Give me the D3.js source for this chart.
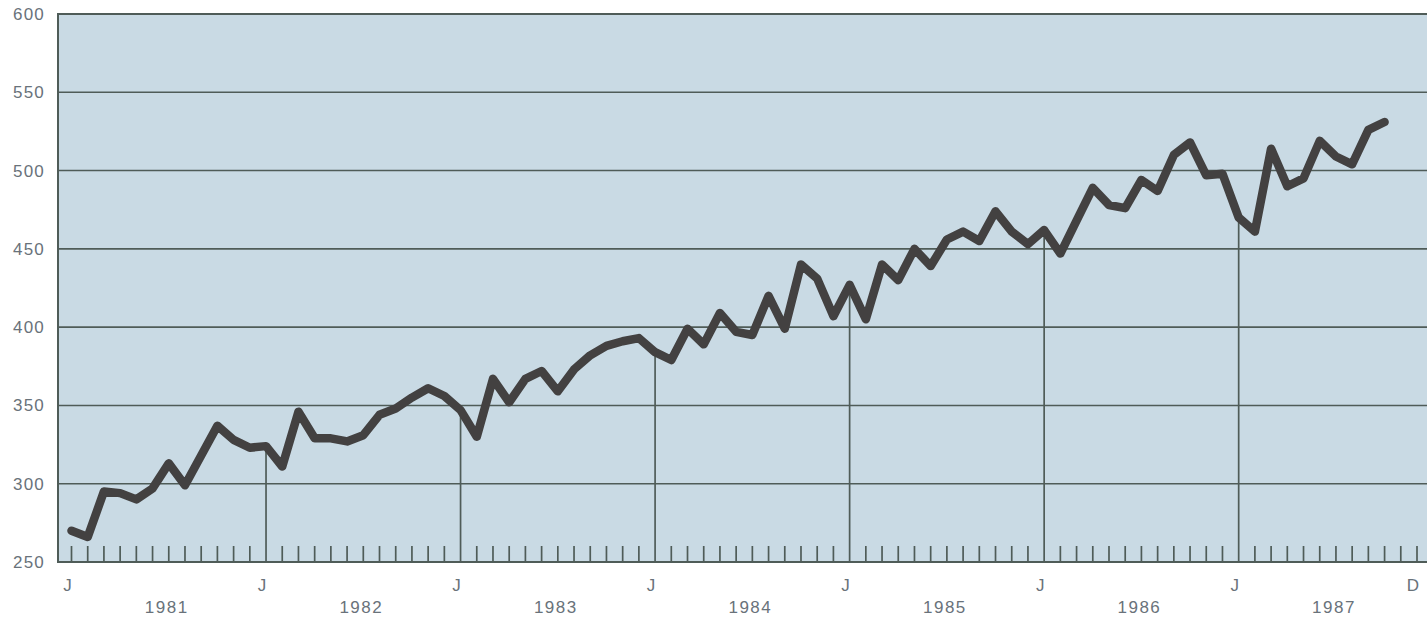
<!DOCTYPE html>
<html>
<head>
<meta charset="utf-8">
<script src="https://cdn.jsdelivr.net/npm/d3@7"></script>
<style>
  html, body { margin: 0; padding: 0; background: #ffffff; }
  svg { display: block; }
  text { font-family: "Liberation Sans", Arial, sans-serif; }
</style>
</head>
<body>
<svg id="chart" width="1427" height="618"></svg>
<script>
// ---- data (monthly, Jan 1981 .. Oct 1987) ----
const years = [1981, 1982, 1983, 1984, 1985, 1986, 1987];
const monthsPerYear = 12;
const values = [
  270, 266, 295, 294, 290, 297, 313, 299, 318, 337, 328, 323,   // 1981
  324, 311, 346, 329, 329, 327, 331, 344, 348, 355, 361, 356,   // 1982
  347, 330, 367, 352, 367, 372, 359, 373, 382, 388, 391, 393,   // 1983
  384, 379, 399, 389, 409, 397, 395, 420, 399, 440, 431, 407,   // 1984
  427, 405, 440, 430, 450, 439, 456, 461, 455, 474, 461, 453,   // 1985
  462, 447, 468, 489, 478, 476, 494, 487, 510, 518, 497, 498,   // 1986
  470, 461, 514, 490, 495, 519, 509, 504, 526, 531              // 1987
];
const yTicks = [250, 300, 350, 400, 450, 500, 550, 600];
const monthLabels = ["J", "J", "J", "J", "J", "J", "J", "D"];

// ---- layout ----
const svg = d3.select("#chart");
const frame = { left: 58, top: 14, right: 1432, bottom: 562 };
const totalMonths = years.length * monthsPerYear; // 84
const x = d3.scaleLinear().domain([0, totalMonths - 1]).range([71.5, 1417]);
const y = d3.scaleLinear().domain([250, 600]).range([562, 14]);

const gridColor = "#4f5c58";
const textColor = "#69727a";

// plot background
svg.append("rect")
  .attr("x", frame.left).attr("y", frame.top)
  .attr("width", frame.right - frame.left).attr("height", frame.bottom - frame.top)
  .attr("fill", "#c9dae4");

// horizontal grid lines
svg.append("g").selectAll("line").data(yTicks).join("line")
  .attr("x1", frame.left).attr("x2", frame.right)
  .attr("y1", d => y(d)).attr("y2", d => y(d))
  .attr("stroke", gridColor)
  .attr("stroke-width", d => (d === 600 || d === 250) ? 2 : 1.6);

// left frame
svg.append("line")
  .attr("x1", frame.left).attr("x2", frame.left)
  .attr("y1", frame.top - 1).attr("y2", frame.bottom + 1)
  .attr("stroke", gridColor).attr("stroke-width", 2);

// y axis labels
const yAxis = d3.axisLeft(y).tickValues(yTicks).tickSize(0).tickPadding(0);
const yg = svg.append("g").attr("transform", `translate(${frame.left - 13},0)`).call(yAxis);
yg.select(".domain").remove();
yg.selectAll("text")
  .attr("font-size", 17).attr("fill", textColor)
  .attr("letter-spacing", "1.2px")
  .attr("font-family", "'Liberation Sans', Arial, sans-serif");

// month ticks and January drop lines
const monthIdx = d3.range(totalMonths);
svg.append("g").selectAll("line").data(monthIdx).join("line")
  .attr("x1", d => x(d)).attr("x2", d => x(d))
  .attr("y1", y(250))
  .attr("y2", d => (d % 12 === 0 && d > 0 && d < values.length) ? y(values[d]) : y(250) - 16)
  .attr("stroke", gridColor)
  .attr("stroke-width", 1.7);

// month letters (J at each January, D at final December)
const letterPos = years.map((yr, k) => k * monthsPerYear).concat([totalMonths - 1]);
svg.append("g").selectAll("text").data(letterPos).join("text")
  .attr("x", d => x(d) - 4)
  .attr("y", 591)
  .attr("text-anchor", "middle")
  .attr("font-size", 17).attr("fill", textColor)
  .text((d, i) => monthLabels[i]);

// year labels
svg.append("g").selectAll("text").data(years).join("text")
  .attr("x", (d, k) => x(k * monthsPerYear + 6) - 2)
  .attr("y", 613)
  .attr("text-anchor", "middle")
  .attr("font-size", 17).attr("fill", textColor)
  .attr("letter-spacing", "1.5px")
  .text(d => d);

// data line
const line = d3.line().x((d, i) => x(i)).y(d => y(d));
svg.append("path")
  .datum(values)
  .attr("d", line)
  .attr("fill", "none")
  .attr("stroke", "#434141")
  .attr("stroke-width", 8.5)
  .attr("stroke-linejoin", "round")
  .attr("stroke-linecap", "round");
</script>
</body>
</html>
